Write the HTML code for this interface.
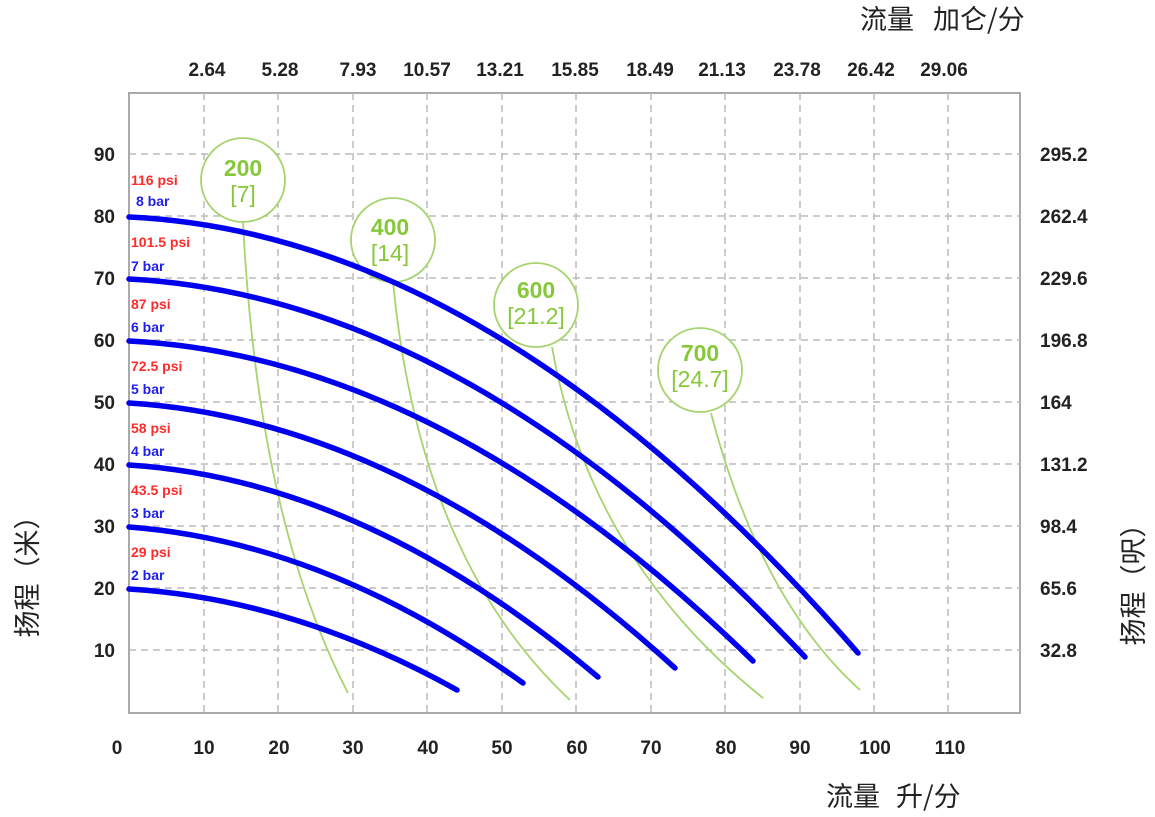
<!DOCTYPE html>
<html><head><meta charset="utf-8"><style>
body{margin:0;background:#fff}
svg text{font-family:"Liberation Sans","Noto Sans CJK SC",sans-serif}
.t{font-weight:bold;font-size:19px;fill:#222}
.cj{font-size:27px;fill:#222;font-family:"Noto Sans CJK SC","WenQuanYi Zen Hei",sans-serif}
.r{fill:#ff2b2b;font-weight:bold;font-size:14px}
.b{fill:#2020ee;font-weight:bold;font-size:14px}
.g1{fill:#86c83a;font-weight:bold;font-size:23px}
.g2{fill:#86c83a;font-size:23px}
</style></head><body>
<svg width="1155" height="812" xmlns="http://www.w3.org/2000/svg">
<rect x="129" y="93" width="891" height="620" fill="#fff" stroke="#aaa" stroke-width="2"/>
<g stroke="#bbb" stroke-width="1.5" stroke-dasharray="7,5">
<line x1="204" y1="93" x2="204" y2="713"/><line x1="278" y1="93" x2="278" y2="713"/><line x1="353" y1="93" x2="353" y2="713"/><line x1="427" y1="93" x2="427" y2="713"/><line x1="502" y1="93" x2="502" y2="713"/><line x1="576" y1="93" x2="576" y2="713"/><line x1="651" y1="93" x2="651" y2="713"/><line x1="725" y1="93" x2="725" y2="713"/><line x1="800" y1="93" x2="800" y2="713"/><line x1="874" y1="93" x2="874" y2="713"/><line x1="948" y1="93" x2="948" y2="713"/>
<line x1="129" y1="154" x2="1020" y2="154"/><line x1="129" y1="216" x2="1020" y2="216"/><line x1="129" y1="278" x2="1020" y2="278"/><line x1="129" y1="340" x2="1020" y2="340"/><line x1="129" y1="402" x2="1020" y2="402"/><line x1="129" y1="464" x2="1020" y2="464"/><line x1="129" y1="526" x2="1020" y2="526"/><line x1="129" y1="588" x2="1020" y2="588"/><line x1="129" y1="650" x2="1020" y2="650"/>
</g>
<g class="t" text-anchor="middle">
<text x="117" y="754">0</text><text x="204" y="754">10</text><text x="279" y="754">20</text><text x="353" y="754">30</text><text x="428" y="754">40</text><text x="502" y="754">50</text><text x="577" y="754">60</text><text x="651" y="754">70</text><text x="726" y="754">80</text><text x="800" y="754">90</text><text x="875" y="754">100</text><text x="950" y="754">110</text>
<text x="207" y="76">2.64</text><text x="280" y="76">5.28</text><text x="358" y="76">7.93</text><text x="427" y="76">10.57</text><text x="500" y="76">13.21</text><text x="575" y="76">15.85</text><text x="650" y="76">18.49</text><text x="722" y="76">21.13</text><text x="797" y="76">23.78</text><text x="871" y="76">26.42</text><text x="944" y="76">29.06</text>
</g>
<g class="t" text-anchor="end">
<text x="115" y="161">90</text><text x="115" y="223">80</text><text x="115" y="285">70</text><text x="115" y="347">60</text><text x="115" y="409">50</text><text x="115" y="471">40</text><text x="115" y="533">30</text><text x="115" y="595">20</text><text x="115" y="657">10</text>
</g>
<g class="t">
<text x="1040" y="161">295.2</text><text x="1040" y="223">262.4</text><text x="1040" y="285">229.6</text><text x="1040" y="347">196.8</text><text x="1040" y="409">164</text><text x="1040" y="471">131.2</text><text x="1040" y="533">98.4</text><text x="1040" y="595">65.6</text><text x="1040" y="657">32.8</text>
</g>
<text class="cj" x="860" y="29">流量</text><text class="cj" x="933" y="29">加仑/分</text>
<text class="cj" x="826" y="806">流量</text><text class="cj" x="896" y="806">升/分</text>
<text class="cj" transform="translate(37,570) rotate(-90)" text-anchor="middle">扬程（米）</text>
<text class="cj" transform="translate(1143,578) rotate(-90)" text-anchor="middle">扬程（呎）</text>
<g>
<text class="r" x="131" y="185">116 psi</text><text class="b" x="136" y="206">8 bar</text>
<text class="r" x="131" y="247">101.5 psi</text><text class="b" x="131" y="271">7 bar</text>
<text class="r" x="131" y="309">87 psi</text><text class="b" x="131" y="332">6 bar</text>
<text class="r" x="131" y="371">72.5 psi</text><text class="b" x="131" y="394">5 bar</text>
<text class="r" x="131" y="433">58 psi</text><text class="b" x="131" y="456">4 bar</text>
<text class="r" x="131" y="495">43.5 psi</text><text class="b" x="131" y="518">3 bar</text>
<text class="r" x="131" y="557">29 psi</text><text class="b" x="131" y="580">2 bar</text>
</g>
<g fill="none" stroke="#a6d46e" stroke-width="1.8">
<path d="M243,222 Q258,520 348,693"/>
<path d="M393,282 Q420,560 570,700"/>
<path d="M552,347 Q590,560 763,698"/>
<path d="M711,413 Q760,600 860,690"/>
<circle cx="243" cy="180" r="42" fill="#fff"/>
<circle cx="393" cy="240" r="42" fill="#fff"/>
<circle cx="536" cy="305" r="42" fill="#fff"/>
<circle cx="700" cy="370" r="42" fill="#fff"/>
</g>
<g text-anchor="middle">
<text class="g1" x="243" y="176">200</text><text class="g2" x="243" y="202">[7]</text>
<text class="g1" x="390" y="235">400</text><text class="g2" x="390" y="261">[14]</text>
<text class="g1" x="536" y="298">600</text><text class="g2" x="536" y="324">[21.2]</text>
<text class="g1" x="700" y="361">700</text><text class="g2" x="700" y="387">[24.7]</text>
</g>
<g fill="none" stroke="#0000ee" stroke-width="5.5" stroke-linecap="round">
<path d="M129,589 Q293,599 457,690"/>
<path d="M129,527 Q326,542 523,683"/>
<path d="M129,465 Q364,480 598,677"/>
<path d="M129,403 Q402,420 675,668"/>
<path d="M129,341 Q441,357 753,661"/>
<path d="M129,279 Q467,297 805,657"/>
<path d="M129,217 Q494,234 858,653"/>
</g>
</svg>
</body></html>
